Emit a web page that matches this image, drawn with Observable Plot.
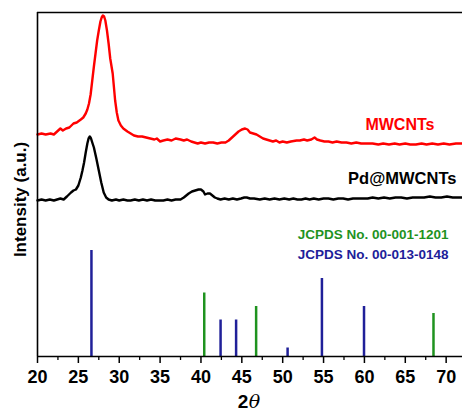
<!DOCTYPE html>
<html>
<head>
<meta charset="utf-8">
<script src="https://cdn.jsdelivr.net/npm/d3@7"></script>
<script src="https://cdn.jsdelivr.net/npm/@observablehq/plot@0.6"></script>
<style>
  html, body { margin: 0; padding: 0; background: #fff; }
  #chart svg { display: block; }
</style>
</head>
<body>
<div id="chart"></div>
<script>
// 2θ positions and relative intensities (arbitrary units)
const mwcntTheta = [20.0,20.5,21.0,21.6,22.0,22.4,22.8,23.1,23.5,23.9,24.4,24.8,25.3,25.6,25.9,26.1,26.3,26.5,26.7,26.9,27.1,27.3,27.5,27.7,27.85,28.0,28.15,28.3,28.5,28.7,28.9,29.2,29.5,29.7,29.9,30.2,30.5,31.0,31.4,31.8,32.3,32.8,33.3,33.8,34.3,34.6,35.0,35.4,35.9,36.4,36.9,37.5,37.9,38.3,38.8,39.2,39.6,40.0,40.5,41.0,41.5,42.0,42.5,43.0,43.4,43.8,44.2,44.6,45.0,45.4,45.7,46.0,46.4,46.8,47.2,47.6,48.0,48.4,48.8,49.2,49.6,50.0,50.5,51.0,51.7,52.1,52.6,53.0,53.5,53.9,54.2,54.6,55.1,55.6,56.1,56.6,57.2,57.8,58.4,59.0,59.6,60.3,61.0,61.7,62.3,63.0,63.7,64.3,65.0,65.6,66.3,67.0,67.6,68.3,69.0,69.7,70.4,71.2,72.0];
const mwcntInt = [222,223,222,223,222,225,228,226,228,229,233,234,237,239,243,247,253,262,276,290,303,316,326,335,339,341,340,336,326,313,298,283,256,244,236,231,228,225,223,221,220,220,219,218,217,218,215,216,217,216,218,217,216,217,215,214,213,214,213,214,214,213,214,214,216,219,222,225,227,228,227,224,223,222,220,218,217,216,215,216,214,215,214,215,216,216,217,216,217,219,217,216,215,215,214,215,214,214,213,214,213,213,213,212,213,212,213,212,213,212,212,213,212,213,212,213,212,213,213];

const pdTheta = [20.0,20.5,21.0,21.5,22.0,22.4,22.8,23.2,23.6,24.1,24.4,24.7,25.0,25.3,25.5,25.7,25.9,26.1,26.25,26.4,26.55,26.7,26.9,27.2,27.5,27.8,28.1,28.4,28.7,29.1,29.6,30.0,30.5,31.0,31.4,31.9,32.4,32.9,33.4,33.9,34.4,35.0,35.4,35.9,36.4,36.9,37.5,37.9,38.2,38.5,38.9,39.3,39.7,40.0,40.3,40.5,40.8,41.1,41.4,41.7,42.0,42.4,42.9,43.4,43.9,44.4,44.9,45.3,45.6,46.0,46.5,47.2,47.8,48.4,49.0,49.6,50.2,50.8,51.3,51.8,52.3,52.8,53.3,53.8,54.4,55.0,55.6,56.2,56.8,57.4,58.0,58.6,59.2,59.8,60.4,61.0,61.7,62.4,63.1,63.8,64.5,65.2,65.9,66.6,67.3,68.0,68.7,69.4,70.1,70.8,71.5,72.0];
const pdInt = [156,157,156,157,156,157,158,157,160,164,166,167,171,179,186,194,204,213,218,220,218,214,209,198,186,174,164,159,157,156,157,156,157,156,156,157,156,157,156,157,156,156,156,157,156,157,157,159,161,163,165,166,167,167,165,162,163,163,161,159,158,157,158,157,158,157,158,159,159,158,158,157,158,157,158,157,158,157,158,157,157,158,157,158,157,158,158,157,158,158,157,158,158,158,158,159,158,159,158,159,159,158,159,159,159,160,159,159,160,159,159,159];

// reference patterns (stick positions / heights)
const pdRefTheta = [40.4, 46.75, 68.45];
const pdRefInt = [63.5, 50, 43];
const cRefTheta = [26.6, 42.4, 44.3, 50.6, 54.8, 59.95];
const cRefInt = [106, 36.5, 36.5, 8.5, 78, 50];

const xTicks = [20, 25, 30, 35, 40, 45, 50, 55, 60, 65, 70];
const xMinor = [22.5, 27.5, 32.5, 37.5, 42.5, 47.5, 52.5, 57.5, 62.5, 67.5];

const seriesLabels = ["MWCNTs", "Pd@MWCNTs"];
const refLabels = ["JCPDS No. 00-001-1201", "JCPDS No. 00-013-0148"];

const RED = "#ff0000", BLACK = "#000000", GREEN = "#1f931f", BLUE = "#202099";
const FONT = "'Liberation Sans', Arial, Helvetica, sans-serif";

const mwcnt = mwcntTheta.map((t, i) => ({t, v: mwcntInt[i]}));
const pd = pdTheta.map((t, i) => ({t, v: pdInt[i]}));
const pdRef = pdRefTheta.map((t, i) => ({t, v: pdRefInt[i]}));
const cRef = cRefTheta.map((t, i) => ({t, v: cRefInt[i]}));

const chart = Plot.plot({
  width: 462,
  height: 411,
  marginLeft: 37,
  marginRight: 0,
  marginTop: 12,
  marginBottom: 55,
  style: {fontFamily: FONT, fontWeight: "bold", fontSize: "16px", color: "#000", background: "#fff"},
  x: {domain: [20, 72], label: null},
  y: {domain: [0, 344], axis: null},
  marks: [
    Plot.ruleX(cRef, {x: "t", y1: 0, y2: "v", stroke: BLUE, strokeWidth: 2.5}),
    Plot.ruleX(pdRef, {x: "t", y1: 0, y2: "v", stroke: GREEN, strokeWidth: 2.5}),
    Plot.line(mwcnt, {x: "t", y: "v", stroke: RED, strokeWidth: 2.4}),
    Plot.line(pd, {x: "t", y: "v", stroke: BLACK, strokeWidth: 2.4}),
    Plot.axisX({ticks: xMinor, tickSize: 4, text: null, label: null, strokeWidth: 1.3}),
    Plot.axisX({ticks: xTicks, tickSize: 7, text: null, label: null, strokeWidth: 1.5}),
    Plot.text(xTicks, {x: d => d, y: 0, dy: 21, text: d => String(d), fill: BLACK, fontSize: 18, fontWeight: "bold"}),
    Plot.ruleY([0], {stroke: BLACK, strokeWidth: 1.6}),
    Plot.ruleY([344], {stroke: BLACK, strokeWidth: 1.6}),
    Plot.ruleX([20], {stroke: BLACK, strokeWidth: 1.6}),
    Plot.text([seriesLabels[0]], {x: 68.57, y: 232, text: d => d, textAnchor: "end", fill: RED, fontSize: 16, fontWeight: "bold"}),
    Plot.text([seriesLabels[1]], {x: 71.26, y: 178, text: d => d, textAnchor: "end", fill: BLACK, fontSize: 16.5, fontWeight: "bold"}),
    Plot.text([refLabels[0]], {x: 70.3, y: 122, text: d => d, textAnchor: "end", fill: GREEN, fontSize: 13.5, fontWeight: "bold"}),
    Plot.text([refLabels[1]], {x: 70.3, y: 102, text: d => d, textAnchor: "end", fill: BLUE, fontSize: 13.5, fontWeight: "bold"}),
    Plot.text(["Intensity (a.u.)"], {frameAnchor: "left", y: 157, text: d => d, rotate: -90, textAnchor: "middle", dx: -17, fill: BLACK, fontSize: 17, fontWeight: "bold"}),
    Plot.text(["2"], {x: 45.8, y: 0, dy: 45, text: d => d, textAnchor: "end", fill: BLACK, fontSize: 19, fontWeight: "bold"}),
    Plot.text(["\u03B8"], {x: 45.85, y: 0, dy: 45, text: d => d, textAnchor: "start", fill: BLACK, fontSize: 19, fontWeight: "normal", fontStyle: "italic", fontFamily: "'DejaVu Serif', 'Liberation Serif', serif"})
  ]
});
document.getElementById("chart").appendChild(chart);
</script>
</body>
</html>
